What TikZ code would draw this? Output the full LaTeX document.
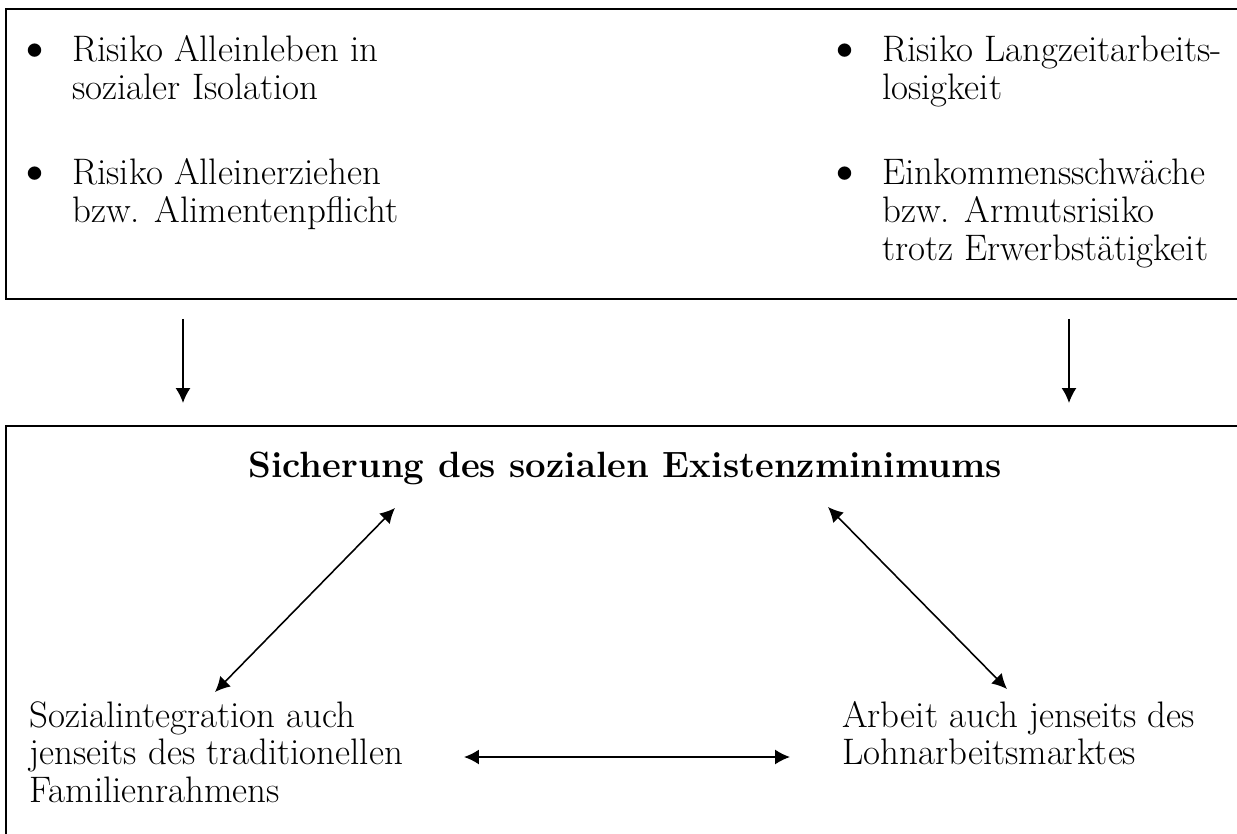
\documentclass[tikz,border=0pt]{standalone}
\usepackage{tikz}
\usetikzlibrary{%
	calc,%
	arrows.meta,%
	positioning
}
\newcommand{\riskpoint}{\llap{\raisebox{-2.5pt}{\fontsize{34}{34}\selectfont\textbullet}\hspace{9pt}}}
\newcommand{\textlines}[1]{\begin{tabular}[t]{@{}l@{}}#1\end{tabular}}

\begin{document}
\begin{tikzpicture}[x=0.02cm,y=-0.02cm,
	panel/.style={draw,line width=1.1pt,inner sep=0pt,anchor=north west},
	txt/.style={inner sep=0pt,anchor=base west,font=\fontsize{21}{21.6}\selectfont},
	flow/.style={line width=0.9pt,-{Latex[length=8.5pt,width=8.5pt]}},
	link/.style={line width=0.9pt,{Latex[length=8.5pt,width=8.5pt]}-{Latex[length=8.5pt,width=8.5pt]}}]
	\useasboundingbox (0,0) rectangle (1237,834);
	\clip (0,0) rectangle (1237,834);
	% the two frames, cut at the page edge
	\node[panel,minimum width=24.8cm,minimum height=5.8cm] (risks) at (5,8) {};
	\node[panel,minimum width=24.8cm,minimum height=8.5cm] (basis) at (5,425) {};
	% risks
	\node[txt] (alone) at (72,62) {\textlines{\riskpoint Risiko Alleinleben in\\sozialer Isolation}};
	\node[txt] (single) at (72,185) {\textlines{\riskpoint Risiko Alleinerziehen\\bzw. Alimentenpflicht}};
	\node[txt] (jobless) at (882,62) {\textlines{\riskpoint Risiko Langzeitarbeits-\\losigkeit}};
	\node[txt] (lowpay) at (882,185) {\textlines{\riskpoint Einkommensschwäche\\bzw. Armutsrisiko\\trotz Erwerbstätigkeit}};
	% triangle
	\node[font=\fontsize{20.8}{24}\selectfont\bfseries,inner sep=0pt,anchor=base] (minimum) at (625,477) {Sicherung des sozialen Existenzminimums};
	\node[txt] (sozial) at (29,727) {\textlines{Sozialintegration auch\\jenseits des traditionellen\\Familienrahmens}};
	\node[txt] (arbeit) at (842,727) {\textlines{Arbeit auch jenseits des\\Lohnarbeitsmarktes}};
	\draw[flow] ($(risks.south west)+(178,19)$) -- ($(basis.north west)+(178,-22)$);
	\draw[flow] ($(risks.south west)+(1064,19)$) -- ($(basis.north west)+(1064,-22)$);
	\draw[link] ($(minimum.base)+(-230,31)$) -- ($(sozial.base west)+(186,-35)$);
	\draw[link] ($(minimum.base)+(203,30)$) -- ($(arbeit.base west)+(165,-38)$);
	\draw[link] ($(sozial.base west)+(435,30)$) -- ($(arbeit.base west)+(-52,30)$);
\end{tikzpicture}
\end{document}
